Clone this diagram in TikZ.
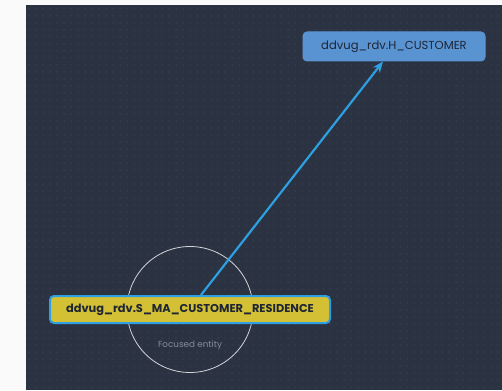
\documentclass[tikz,border=0pt]{standalone}
\usepackage{fontspec}
\setmainfont{Poppins}
\definecolor{CanvasDark}{HTML}{2B3242}
\definecolor{GridDot}{HTML}{535D72}
\definecolor{EdgeBlue}{HTML}{2E9FE0}
\definecolor{HubBlue}{HTML}{5A93D2}
\definecolor{FocusYellow}{HTML}{D4C035}
\definecolor{InkDark}{HTML}{1F2633}
\definecolor{RingGrey}{HTML}{D2D4D8}
\definecolor{NoteGrey}{HTML}{838C9C}
\usetikzlibrary{arrows.meta, positioning}
\tikzset{
  entity/.style={
    rectangle, rounded corners=4pt, draw=#1, fill=#1,
    minimum height=29pt, inner xsep=8pt, text=InkDark,
    font=\fontsize{11.6}{13}\selectfont, line width=1pt
  },
  focus/.style={
    entity=FocusYellow, draw=EdgeBlue, line width=2pt,
    minimum height=27pt, font=\fontsize{11.4}{13}\selectfont\bfseries
  },
  link/.style={line width=2.2pt, color=EdgeBlue, -{Stealth[length=11pt, width=9pt]}},
}

\begin{document}
\begin{tikzpicture}[x=1pt, y=-1pt]
\useasboundingbox (0,0) rectangle (502,390);
\fill[white!98!black] (0,0) rectangle (502,390);
\fill[CanvasDark] (26,5) rectangle (502,390);

% Dot grid
\foreach \gx in {29,36,...,500} {
  \foreach \gy in {9,16,...,388} {
    \fill[GridDot] (\gx,\gy) circle (0.5pt);
  }
}

% Focus ring
\node[circle, draw=RingGrey, line width=0.8pt, minimum size=126pt, inner sep=0pt] (ring) at (190,309.5) {};
\node[font=\fontsize{8.8}{10}\selectfont, text=NoteGrey] (note) at (190,345) {Focused entity};

\node[entity=HubBlue, minimum width=182pt] (hub) at (394,46.5) {ddvug\_rdv.H\_CUSTOMER};
\node[focus, minimum width=280pt] (sat) at (190,309.5) {ddvug\_rdv.S\_MA\_CUSTOMER\_RESIDENCE};

\draw[link] ([xshift=11pt]sat.north) -- ([xshift=-11pt]hub.south);
\end{tikzpicture}
\end{document}
